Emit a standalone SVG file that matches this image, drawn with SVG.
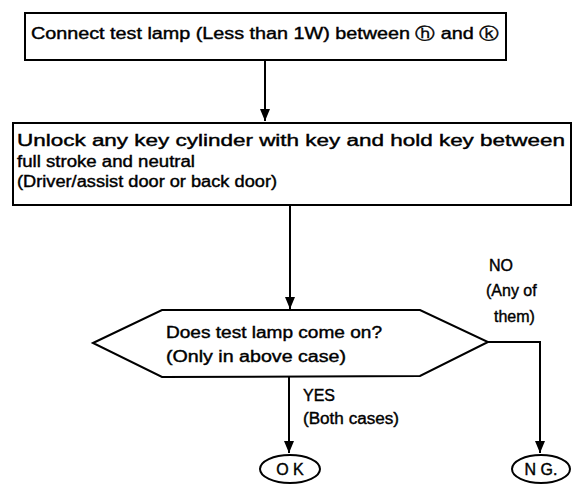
<svg xmlns="http://www.w3.org/2000/svg" width="577" height="494" viewBox="0 0 577 494">
<style>
.box{fill:#fff;stroke:#000;stroke-width:2}
.t{font-family:"Liberation Sans",Arial,"DejaVu Sans",sans-serif;font-size:16px;fill:#000;stroke:#000;stroke-width:0.4}
.c{stroke:#000;stroke-width:2;fill:none}
</style>
<defs>
<marker id="ah" viewBox="0 0 12 10" refX="12" refY="5" markerWidth="12" markerHeight="10" markerUnits="userSpaceOnUse" orient="auto">
<path d="M0,0 L12,5 L0,10 Z" fill="#000"/>
</marker>
</defs>
<rect width="577" height="494" fill="#fff"/>
<g id="connectors">
<line class="c" x1="265" y1="60" x2="265" y2="121" marker-end="url(#ah)"/>
<line class="c" x1="290" y1="205" x2="290" y2="309" marker-end="url(#ah)"/>
<line class="c" x1="289" y1="376" x2="289" y2="453" marker-end="url(#ah)"/>
<polyline class="c" points="488,342 540,342 540,453" marker-end="url(#ah)"/>
</g>
<g id="n1">
<rect class="box" x="25" y="13" width="481" height="47"/>
<text class="t" x="31" y="39" textLength="468" lengthAdjust="spacingAndGlyphs">Connect test lamp (Less than 1W) between <tspan font-family="DejaVu Sans">ⓗ</tspan> and <tspan font-family="DejaVu Sans">ⓚ</tspan></text>
</g>
<g id="n2">
<rect class="box" x="13" y="123" width="558" height="82"/>
<text class="t" x="17" y="146" textLength="548" lengthAdjust="spacingAndGlyphs">Unlock any key cylinder with key and hold key between</text>
<text class="t" x="17" y="167" textLength="178" lengthAdjust="spacingAndGlyphs">full stroke and neutral</text>
<text class="t" x="17" y="187" textLength="260" lengthAdjust="spacingAndGlyphs">(Driver/assist door or back door)</text>
</g>
<g id="n3">
<polygon class="box" points="93,343 162,310 420,310 488,342 420,376 162,377"/>
<text class="t" x="166" y="338" textLength="216" lengthAdjust="spacingAndGlyphs">Does test lamp come on?</text>
<text class="t" x="166" y="362" textLength="180" lengthAdjust="spacingAndGlyphs">(Only in above case)</text>
</g>
<g id="lbl-no">
<text class="t" x="489" y="271">NO</text>
<text class="t" x="486" y="296">(Any of</text>
<text class="t" x="494" y="322">them)</text>
</g>
<g id="lbl-yes">
<text class="t" x="303" y="401">YES</text>
<text class="t" x="303" y="424" textLength="96" lengthAdjust="spacingAndGlyphs">(Both cases)</text>
</g>
<g id="ok">
<ellipse class="box" cx="290" cy="469" rx="30" ry="14"/>
<text class="t" x="290" y="475" text-anchor="middle">O K</text>
</g>
<g id="ng">
<ellipse class="box" cx="541" cy="469" rx="29" ry="14"/>
<text class="t" x="541" y="475" text-anchor="middle">N G.</text>
</g>
</svg>
